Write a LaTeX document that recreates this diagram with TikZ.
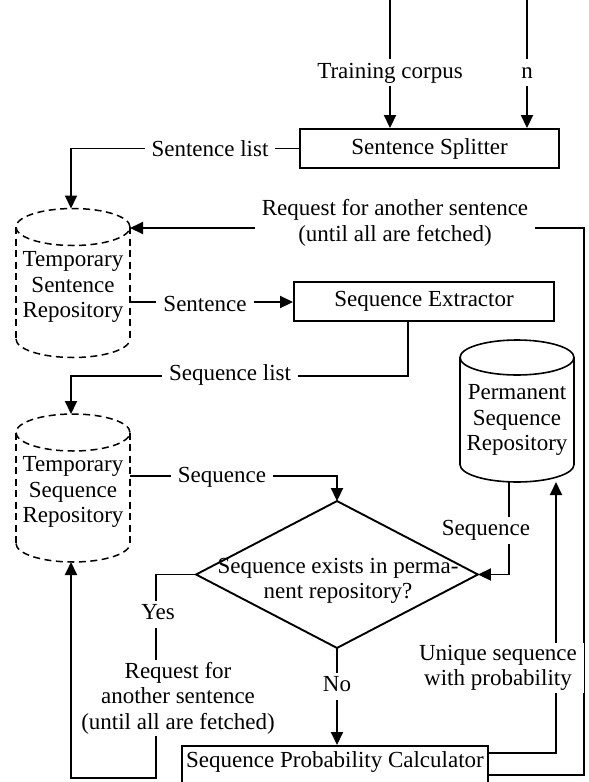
\documentclass[tikz,border=0pt]{standalone}
\usepackage{fontspec}
\setmainfont{Liberation Serif}
\usetikzlibrary{arrows.meta}
\begin{document}
\begin{tikzpicture}[x=1pt,y=-1pt, line width=1.9pt,
  font=\fontsize{23}{25.5}\selectfont,
  arr/.style={-{Triangle[length=13pt,width=12pt]}},
  box/.style={draw, rectangle, inner sep=0pt},
  lbl/.style={fill=white, inner xsep=7pt, inner ysep=2pt, align=center},
  lblone/.style={fill=white, inner xsep=7pt, inner ysep=2pt, text height=17pt, text depth=6pt},
  cyldash/.style={dash pattern=on 7pt off 4.5pt, line width=1.5pt},
  cylsolid/.style={line width=1.6pt}]
\useasboundingbox (0,0) rectangle (589,782);
\clip (0,0) rectangle (589,782);

% boxes
\node[box, minimum width=259pt, minimum height=39pt] (ss) at (429.5,148.5) {Sentence Splitter};
\node[box, minimum width=260pt, minimum height=39pt] (se) at (424,301.5) {Sequence Extractor};
\node[box, anchor=north, minimum width=306pt, text height=22pt, text depth=22pt, inner ysep=0pt] (spc) at (335,745) {Sequence Probability Calculator};

% diamond
\node[minimum width=280pt, minimum height=145pt, inner sep=0pt] (dia) at (337,574.5) {};
\draw (dia.north) -- (dia.east) -- (dia.south) -- (dia.west) -- cycle;
\node[align=center, inner sep=0pt] (diat) at (338,581) {Sequence exists in perma-\\nent repository?};

% temporary sentence repository (dashed cylinder)
\draw[cyldash] (73,227) ellipse [x radius=57pt, y radius=18.5pt];
\draw[cyldash] (16,227) -- (16,339);
\draw[cyldash] (130,227) -- (130,339);
\draw[cyldash] (16,339) arc [start angle=180, end angle=360, x radius=57pt, y radius=18.5pt];
\node[align=center, inner sep=0pt] (tsr) at (73,287) {Temporary\\Sentence\\Repository};

% temporary sequence repository (dashed cylinder)
\draw[cyldash] (73,432.5) ellipse [x radius=57pt, y radius=18.5pt];
\draw[cyldash] (16,432.5) -- (16,543.5);
\draw[cyldash] (130,432.5) -- (130,543.5);
\draw[cyldash] (16,543.5) arc [start angle=180, end angle=360, x radius=57pt, y radius=18.5pt];
\node[align=center, inner sep=0pt] (tseq) at (73,492) {Temporary\\Sequence\\Repository};

% permanent sequence repository (solid cylinder)
\draw[cylsolid] (517,357.5) ellipse [x radius=57pt, y radius=17.5pt];
\draw[cylsolid] (460,357.5) -- (460,464.5);
\draw[cylsolid] (574,357.5) -- (574,464.5);
\draw[cylsolid] (460,464.5) arc [start angle=180, end angle=360, x radius=57pt, y radius=17.5pt];
\node[align=center, inner sep=0pt] (psr) at (517,420) {Permanent\\Sequence\\Repository};

% ports
\coordinate (tc) at (390,0);
\coordinate (nin) at (527,0);
\coordinate (tsrtop) at (71,208.5);
\coordinate (tsrin) at (130,228);
\coordinate (tsrout) at (130,302);
\coordinate (tseqtop) at (71,414);
\coordinate (tseqout) at (130,476);
\coordinate (tseqbot) at (71,562);
\coordinate (psrbotA) at (509,482);
\coordinate (psrbotB) at (556,482);

% connectors
\draw[arr] (tc) -- (tc |- ss.north);
\draw[arr] (nin) -- (nin |- ss.north);
\draw[arr] (ss.west) -| (tsrtop);
\draw[arr] (spc.north east |- 0,775) -| (584,228) -- (tsrin);
\draw[arr] (tsrout) -- (se.west |- tsrout);
\draw[arr] (se.south -| 408,0) |- (71,376) -- (tseqtop);
\draw[arr] (tseqout) -| (dia.north);
\draw[arr] (psrbotA) |- (dia.east);
\draw[arr] (dia.west) -| (156,778) -| (tseqbot);
\draw[arr] (dia.south) -- (dia.south |- spc.north);
\draw[arr] (spc.north east |- 0,753) -| (psrbotB);

% labels
\node[lblone] (ltc) at (390,72.5) {Training corpus};
\node[lblone] (ln) at (527,72.5) {n};
\node[lblone] (lsl) at (210,151) {Sentence list};
\node[lbl] (lreq) at (395,223) {Request for another sentence\\(until all are fetched)};
\node[lblone] (lsen) at (205,306) {Sentence};
\node[lblone] (lseql) at (230,375) {Sequence list};
\node[lblone] (lseq) at (222,477) {Sequence};
\node[lblone] (lseqp) at (486,530) {Sequence};
\node[lblone] (lyes) at (158,614) {Yes};
\node[lbl] (lreq2) at (178,698) {Request for\\another sentence\\(until all are fetched)};
\node[lblone] (lno) at (337,686) {No};
\node[lbl] (luni) at (498,668) {Unique sequence\\with probability};
\end{tikzpicture}
\end{document}
